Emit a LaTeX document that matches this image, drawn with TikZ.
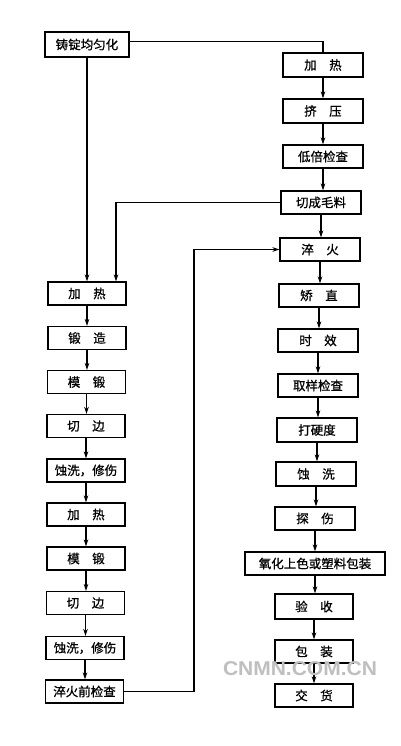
\documentclass[tikz,border=0pt]{standalone}
\usepackage{fontspec}
\newfontfamily\cjk[FakeBold=0.8]{Noto Sans CJK SC}
\newfontfamily\wmfont{Liberation Sans}
\usetikzlibrary{arrows.meta,calc}
\newcommand{\gapsp}{\hspace{1em}}
\begin{document}
\begin{tikzpicture}[x=1pt,y=-1pt,
  box/.style={draw, line width=1.1pt, minimum width=78pt, minimum height=23pt, inner sep=0pt,
              font=\cjk\fontsize{12.5}{14}\selectfont},
  wide/.style={box, minimum width=140pt},
  conn/.style={line width=1.1pt},
  arr/.style={conn, -{Stealth[length=7pt,width=4.5pt]}}]
\useasboundingbox[fill=white] (0,0) rectangle (400,746);
% top
\node[box, minimum width=84pt, minimum height=25pt] (JD) at (87,44.5) {铸锭均匀化};
% left column
\node[box] (L1) at (87,293.5) {加\gapsp 热};
\node[box] (L2) at (87,338) {锻\gapsp 造};
\node[box] (L3) at (86.5,382) {模\gapsp 锻};
\node[box] (L4) at (86,426) {切\gapsp 边};
\node[box] (L5) at (86,470.5) {蚀洗，修伤};
\node[box] (L6) at (86,514.5) {加\gapsp 热};
\node[box] (L7) at (86,558.5) {模\gapsp 锻};
\node[box] (L8) at (85.5,603) {切\gapsp 边};
\node[box] (L9) at (85,648) {蚀洗，修伤};
\node[box] (L10) at (84.5,691.5) {淬火前检查};
% right column
\node[box, minimum width=80pt, minimum height=24pt] (R1) at (323,65) {加\gapsp 热};
\node[box, minimum width=80pt, minimum height=24pt] (R2) at (323,111) {挤\gapsp 压};
\node[box, minimum width=80pt] (R3) at (323,156.5) {低倍检查};
\node[box, minimum width=80pt] (R4) at (321,202.5) {切成毛料};
\node[box, minimum width=80pt] (R5) at (320,249.5) {淬\gapsp 火};
\node[box, minimum width=80pt] (R6) at (319,295.5) {矫\gapsp 直};
\node[box, minimum width=80pt] (R7) at (318,340.5) {时\gapsp 效};
\node[box, minimum width=80pt] (R8) at (318,385.5) {取样检查};
\node[box, minimum width=80pt, minimum height=24pt] (R9) at (317,430) {打硬度};
\node[box, minimum width=80pt, minimum height=24pt] (R10) at (316,474) {蚀\gapsp 洗};
\node[box, minimum width=80pt] (R11) at (315,518.5) {探\gapsp 伤};
\node[wide] (R12) at (315,563.5) {氧化上色或塑料包装};
\node[box, minimum width=78pt, minimum height=25pt] (R13) at (314,606.5) {验\gapsp 收};
\node[box, minimum width=78pt] (R14) at (314,651.5) {包\gapsp 装};
\node[box, minimum width=78pt] (R15) at (314,695.5) {交\gapsp 货};
% connectors
\draw[conn] ([yshift=3pt]JD.east) -| (R1.north);
\draw[arr] (JD.south) -- (JD.south |- L1.north);
\draw[arr] (R4.west) -| ([xshift=29pt]L1.north);
\coordinate (T) at (194,0);
\draw[arr] (L10.east) -- (L10.east -| T) -- (R5.west -| T) -- (R5.west);
\foreach \a/\b in {L1/L2,L2/L3,L3/L4,L4/L5,L5/L6,L6/L7,L7/L8,L8/L9,L9/L10,
                   R1/R2,R2/R3,R3/R4,R4/R5,R5/R6,R6/R7,R7/R8,R8/R9,R9/R10,R10/R11,R11/R12,R12/R13,R13/R14,R14/R15}
  \draw[arr] (\a.south) -- (\a.south |- \b.north);
% watermark
\node[text=gray!50, font=\wmfont\bfseries\fontsize{20}{22}\selectfont, xscale=1.05, inner sep=0pt] (WM) at (300,669) {CNMN.COM.CN};
\end{tikzpicture}
\end{document}
